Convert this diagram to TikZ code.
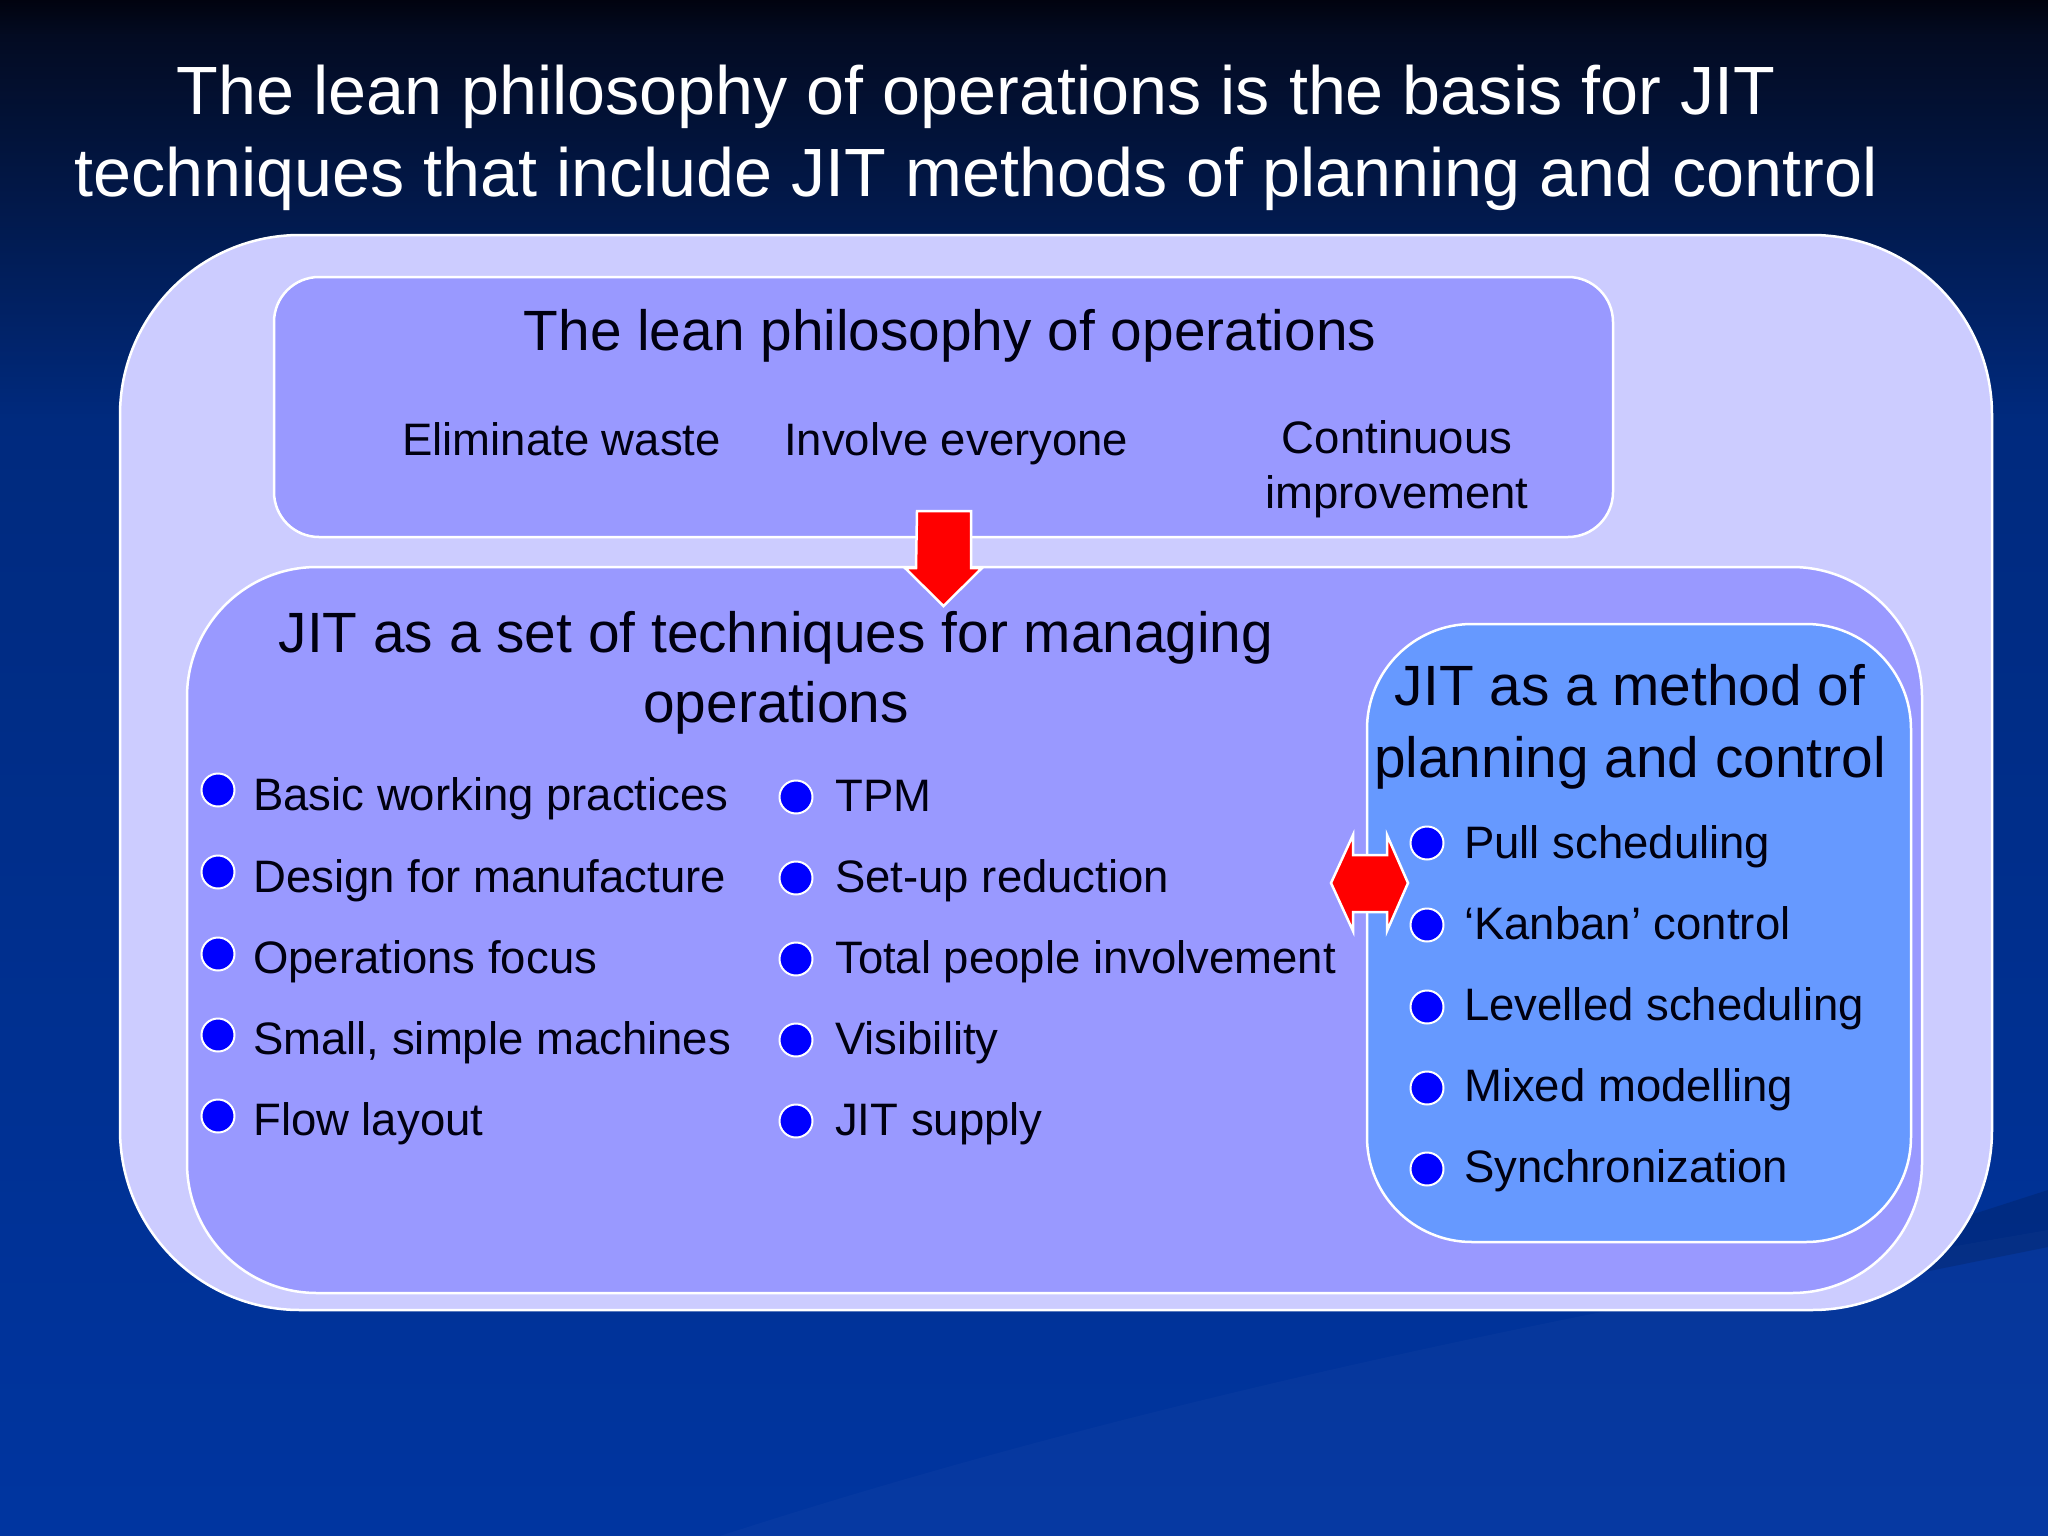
\documentclass[tikz,border=0pt]{standalone}
\usepackage{fontspec}
\setmainfont{Liberation Sans}
\definecolor{bgA}{HTML}{01030F}
\definecolor{bgB}{HTML}{030B22}
\definecolor{bgC}{HTML}{002A7E}
\definecolor{bgD}{HTML}{0035A0}
\definecolor{outerc}{HTML}{CCCCFF}
\definecolor{boxc}{HTML}{9999FF}
\definecolor{methc}{HTML}{6699FF}
\definecolor{bullc}{HTML}{0000FF}
\definecolor{txtc}{HTML}{000010}
\tikzset{
  panel/.style={draw=white, line width=2.5pt, inner sep=0pt, rectangle},
  bul/.style={circle, fill=bullc, draw=white, line width=2pt, minimum size=33pt, inner sep=0pt},
  item/.style={anchor=base west, inner sep=0pt, text=txtc, font=\fontsize{45.5}{55}\selectfont},
  boxtitle/.style={anchor=base, inner sep=0pt, text=txtc},
  blockarrow/.style={fill=red, draw=white, line width=2.5pt, line join=miter},
}
\begin{document}
\begin{tikzpicture}[x=1pt,y=-1pt]
\useasboundingbox (0,0) rectangle (2048,1536);
% background
\fill[top color=bgA, bottom color=bgB] (0,0) rectangle (2048,36);
\fill[top color=bgB, bottom color=bgC] (0,35) rectangle (2048,420);
\fill[top color=bgC, bottom color=bgD] (0,419) rectangle (2048,1536);
\fill[white, opacity=0.025] (720,1536) .. controls (1200,1380) and (1700,1290) .. (2048,1230) -- (2048,1536) -- cycle;
\fill[black, opacity=0.13] (1800,1270) -- (2048,1190) -- (2048,1247) -- (1800,1297) -- cycle;

% title
\node[anchor=base, inner sep=0pt, text=white] (title) at (976,115)
  {\fontsize{68.3}{82}\selectfont\begin{tabular}[t]{@{}c@{}}The lean philosophy of operations is the basis for JIT\\techniques that include JIT methods of planning and control\end{tabular}};

% panels
\node[panel, fill=outerc, rounded corners=180pt, minimum width=1872pt, minimum height=1075pt] (outer) at (1056,772.5) {};
\node[panel, fill=boxc, rounded corners=45pt, minimum width=1339pt, minimum height=260pt] (lean) at (943.5,407) {};
\node[panel, fill=boxc, rounded corners=130pt, minimum width=1735pt, minimum height=726pt] (tech) at (1054.5,930) {};
\node[panel, fill=methc, rounded corners=105pt, minimum width=544pt, minimum height=618pt] (meth) at (1639,933) {};

% lean box texts
\node[boxtitle, font=\fontsize{56.8}{70}\selectfont] (leantitle) at (950,350) {The lean philosophy of operations};
\node[item] (waste) at (402,455) {Eliminate waste};
\node[item] (involve) at (784,455) {Involve everyone};
\node[boxtitle, font=\fontsize{45.5}{55}\selectfont] (contimp) at (1397,453)
  {\begin{tabular}[t]{@{}c@{}}Continuous\\improvement\end{tabular}};

% technique box
\node[boxtitle, font=\fontsize{56.8}{70}\selectfont] (techtitle) at (776,652)
  {\begin{tabular}[t]{@{}c@{}}JIT as a set of techniques for managing\\operations\end{tabular}};
\node[bul] (l1) at (218,790) {};
\node[bul] (l2) at (218,872) {};
\node[bul] (l3) at (218,954) {};
\node[bul] (l4) at (218,1035) {};
\node[bul] (l5) at (218,1116) {};
\node[item] (lt1) at (253,810) {Basic working practices};
\node[item] (lt2) at (253,892) {Design for manufacture};
\node[item] (lt3) at (253,973) {Operations focus};
\node[item] (lt4) at (253,1054) {Small, simple machines};
\node[item] (lt5) at (253,1135) {Flow layout};
\node[bul] (m1) at (796,797) {};
\node[bul] (m2) at (796,878) {};
\node[bul] (m3) at (796,959) {};
\node[bul] (m4) at (796,1040) {};
\node[bul] (m5) at (796,1121) {};
\node[item] (mt1) at (835,811) {TPM};
\node[item] (mt2) at (835,892) {Set-up reduction};
\node[item] (mt3) at (835,973) {Total people involvement};
\node[item] (mt4) at (835,1054) {Visibility};
\node[item] (mt5) at (835,1135) {JIT supply};

% method box
\node[boxtitle, font=\fontsize{56.8}{72}\selectfont] (methtitle) at (1630,705)
  {\begin{tabular}[t]{@{}c@{}}JIT as a method of\\planning and control\end{tabular}};
\node[bul] (r1) at (1427,843) {};
\node[bul] (r2) at (1427,925) {};
\node[bul] (r3) at (1427,1007) {};
\node[bul] (r4) at (1427,1088) {};
\node[bul] (r5) at (1427,1169) {};
\node[item] (rt1) at (1464,858) {Pull scheduling};
\node[item] (rt2) at (1464,939) {‘Kanban’ control};
\node[item] (rt3) at (1464,1020) {Levelled scheduling};
\node[item] (rt4) at (1464,1101) {Mixed modelling};
\node[item] (rt5) at (1464,1182) {Synchronization};

% arrows
\coordinate (dtop) at (944,511);
\draw[blockarrow] (dtop) ++(-27,0) -- ++(54,0) -- ++(0,57) -- ++(11,0) -- ++(-38.5,38) -- ++(-38.5,-38) -- ++(11,0) -- cycle;
\coordinate (dbl) at (1331,883);
\draw[blockarrow] (dbl) -- ++(22,-48) -- ++(0,20) -- ++(34,0) -- ++(0,-20) -- ++(21,48) -- ++(-21,48) -- ++(0,-19) -- ++(-34,0) -- ++(0,19) -- cycle;
\end{tikzpicture}
\end{document}
